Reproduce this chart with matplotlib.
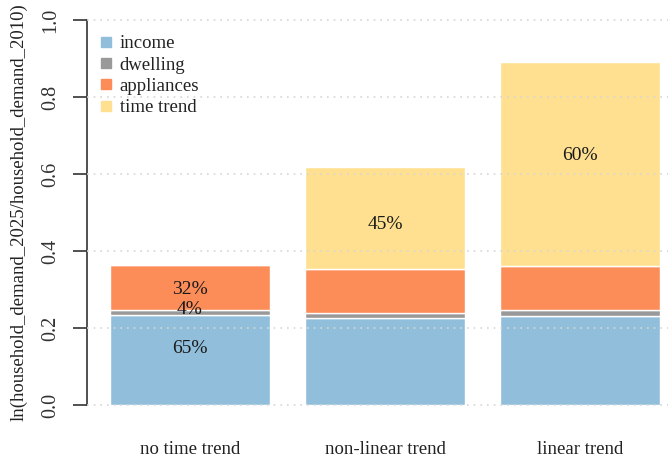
import numpy as np
import matplotlib.pyplot as plt

plt.rcParams['font.family'] = ['Liberation Serif', 'DejaVu Serif']

scenarios = ["no time trend", "non-linear trend", "linear trend"]
series = ["income", "dwelling", "appliances", "time trend"]
colors = ["#91bfdb", "#999999", "#fc8d59", "#fee090"]

# ln(demand_2025 / demand_2010) contributions per scenario
income = [0.234, 0.227, 0.232]
dwelling = [0.014, 0.013, 0.015]
appliances = [0.115, 0.114, 0.114]
time_trend = [0.0, 0.264, 0.530]

# share labels: (bar index, text, y position)
share_labels = [
    (0, "65%", 0.148),
    (0, "4%", 0.249),
    (0, "32%", 0.299),
    (1, "45%", 0.468),
    (2, "60%", 0.649),
]

fig = plt.figure(figsize=(6.68, 4.61), dpi=100)
ax = fig.add_axes([0.130, 0.1131, 0.870, 0.8518])

x = np.arange(len(scenarios))
bottom = np.zeros(len(scenarios))
for name, vals, col in zip(series, [income, dwelling, appliances, time_trend], colors):
    ax.bar(x, vals, width=0.82, bottom=bottom, color=col, edgecolor="white",
           linewidth=1.0, zorder=1)
    bottom += np.array(vals)

# dotted grid drawn over the bars
for yv in np.arange(0, 1.01, 0.2):
    ax.axhline(yv, color="#d6d6d6", linestyle=(0, (1, 3)), linewidth=1.2, zorder=3)

for i, txt, yv in share_labels:
    ax.text(x[i], yv, txt, ha="center", va="center", fontsize=14, color="#1a1a1a", zorder=4)

ax.set_xlim(-0.528, 2.45)
ax.set_ylim(-0.01, 1.01)
ax.set_yticks(np.arange(0, 1.01, 0.2))
ax.set_yticklabels(["0.0", "0.2", "0.4", "0.6", "0.8", "1.0"], rotation=90, va="center",
                   fontsize=14.5, color="#333333")
ax.tick_params(axis="y", length=10, width=1.2, color="#333333", pad=9)
ax.set_xticks(x)
ax.set_xticklabels(scenarios, fontsize=13.5, color="#222222")
ax.tick_params(axis="x", length=0, pad=23)

for s in ["top", "right", "bottom"]:
    ax.spines[s].set_visible(False)
ax.spines["left"].set_bounds(0, 1)
ax.spines["left"].set_linewidth(1.2)
ax.spines["left"].set_color("#333333")

ax.set_ylabel("ln(household_demand_2025/household_demand_2010)", fontsize=13.5,
              labelpad=10, color="#222222")

handles = [plt.Line2D([], [], marker="s", linestyle="", color=c, markersize=7) for c in colors]
ax.legend(handles, series, loc="upper left", bbox_to_anchor=(0.0, 0.98), frameon=False,
          fontsize=13.5, handletextpad=0.35, labelspacing=0.22, handlelength=0.8,
          borderaxespad=0.2, labelcolor="#222222")

fig.savefig("out.png", dpi=100)
